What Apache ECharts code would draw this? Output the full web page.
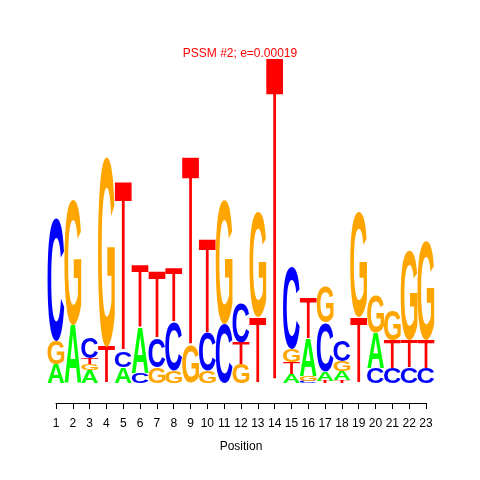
<!DOCTYPE html>
<html>
<head>
<meta charset="utf-8">
<script src="https://cdn.jsdelivr.net/npm/echarts@6/dist/echarts.min.js"></script>
<style>html,body{margin:0;padding:0;background:#fff;}#chart{width:480px;height:480px;}</style>
</head>
<body>
<div id="chart"></div>
<script>
// Positions along the motif
var positions = [1,2,3,4,5,6,7,8,9,10,11,12,13,14,15,16,17,18,19,20,21,22,23];
// Letter stacking order, bottom to top, for each position
var letterStacks = ["AGC","AG","AGTC","TG","ACT","CAT","GCT","GCT","GT","GCT","CG","GTC","TG","T","ATGC","CGAT","TACG","TAGC","TG","CAG","CTG","CTG","CTG"];
// Letter heights in bits, matching letterStacks order
var stackHeights = [
  [0.115,0.139,0.745],
  [0.352,0.758],
  [0.079,0.036,0.036,0.127],
  [0.218,1.152],
  [0.097,0.097,1.024],
  [0.061,0.273,0.376],
  [0.097,0.176,0.400],
  [0.073,0.297,0.321],
  [0.224,1.145],
  [0.073,0.230,0.564],
  [0.358,0.752],
  [0.115,0.133,0.242],
  [0.394,0.642],
  [1.970],
  [0.055,0.073,0.079,0.491],
  [0.012,0.030,0.230,0.242],
  [0.012,0.055,0.297,0.212],
  [0.018,0.055,0.061,0.127],
  [0.394,0.642],
  [0.091,0.212,0.224],
  [0.091,0.170,0.182],
  [0.097,0.164,0.545],
  [0.091,0.170,0.600]
];
var titleText = "PSSM #2; e=0.00019";
var xAxisName = "Position";

var letterColors = {A:'#00FF00', C:'#0000FF', G:'#FFA500', T:'#FF0000'};
var letterWeights = {A:'bold', C:'bold', G:'bold', T:'normal'};
var FONT_FAMILY = '"Liberation Sans", Arial, sans-serif';
var FONT_SIZE = 100;

// measure glyph bounds (textAlign center, textBaseline middle)
var metrics = {};
(function(){
  var cv = document.createElement('canvas');
  var ctx = cv.getContext('2d');
  ctx.textAlign = 'center';
  ctx.textBaseline = 'middle';
  ['A','C','G','T'].forEach(function(L){
    ctx.font = letterWeights[L] + ' ' + FONT_SIZE + 'px ' + FONT_FAMILY;
    var m = ctx.measureText(L);
    metrics[L] = {left:m.actualBoundingBoxLeft, right:m.actualBoundingBoxRight, ascent:m.actualBoundingBoxAscent, descent:m.actualBoundingBoxDescent};
  });
})();

var letterNames = ['A','C','G','T'];
var data = [];
positions.forEach(function(p, i){
  var base = 0;
  var s = letterStacks[i];
  for (var k = 0; k < s.length; k++) {
    var h = stackHeights[i][k];
    data.push([p, base, base + h, letterNames.indexOf(s[k])]);
    base += h;
  }
});

var chart = echarts.init(document.getElementById('chart'), null, {renderer:'canvas'});
chart.setOption({
  animation:false,
  backgroundColor:'#fff',
  title:{
    text:titleText, left:'center', top:43,
    textStyle:{color:'#FF0000', fontSize:12, fontWeight:'normal', fontFamily:FONT_FAMILY}
  },
  grid:{left:56, right:54, top:53, bottom:97},
  xAxis:{
    type:'value', min:1, max:23, interval:1, offset:20,
    name:xAxisName, nameLocation:'middle', nameGap:38,
    nameTextStyle:{color:'#000', fontSize:12, fontFamily:FONT_FAMILY},
    axisLine:{show:true, onZero:false, lineStyle:{color:'#000', width:1}},
    axisTick:{show:true, length:6, lineStyle:{color:'#000', width:1}},
    axisLabel:{color:'#000', fontSize:12, fontFamily:FONT_FAMILY, margin:15, showMinLabel:true, showMaxLabel:true, hideOverlap:false},
    splitLine:{show:false}
  },
  yAxis:{type:'value', min:0, max:2, show:false, splitLine:{show:false}},
  series:[{
    type:'custom',
    clip:false,
    encode:{x:0, y:2},
    data:data,
    renderItem:function(params, api){
      var pos = api.value(0), y0 = api.value(1), y1 = api.value(2);
      var L = letterNames[api.value(3)];
      var p0 = api.coord([pos - 0.5, y0]);
      var p1 = api.coord([pos + 0.5, y1]);
      var m = metrics[L];
      var w0 = m.left + m.right, h0 = m.ascent + m.descent;
      var bw = p1[0] - p0[0], bh = p0[1] - p1[1];
      if (bh <= 0.05) return null;
      var sx = bw / w0, sy = bh / h0;
      return {
        type:'text',
        x: p0[0] + m.left * sx,
        y: p1[1] + m.ascent * sy,
        scaleX: sx, scaleY: sy,
        style:{
          text:L, fill:letterColors[L],
          fontSize:FONT_SIZE, fontFamily:FONT_FAMILY, fontWeight:letterWeights[L],
          align:'center', verticalAlign:'middle'
        }
      };
    }
  }]
});
</script>
</body>
</html>
